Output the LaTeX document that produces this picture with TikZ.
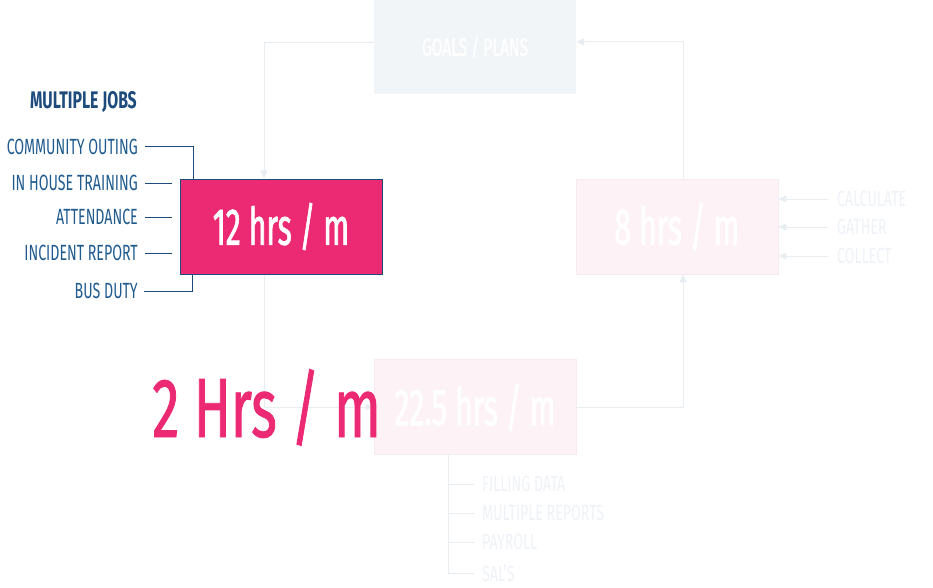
\documentclass[tikz,border=0pt]{standalone}
\usepackage{fontspec}
\usetikzlibrary{arrows.meta}
\newfontfamily\cond[FakeStretch=0.645]{Fira Sans}
\newfontfamily\condbox[FakeStretch=0.58,FakeBold=1.2]{Fira Sans}
\newfontfamily\condg[FakeStretch=0.62,FakeBold=0.6]{Fira Sans}
\newfontfamily\condbig[FakeStretch=0.65,FakeBold=1]{Fira Sans}
\newfontfamily\condb[FakeStretch=0.66]{Fira Sans Bold}
\definecolor{pinkC}{HTML}{EC2A73}
\definecolor{navyC}{HTML}{1D4C7C}
\definecolor{labC}{HTML}{1F5B8E}
\definecolor{lineF}{HTML}{E8EDF2}
\definecolor{goalF}{HTML}{F2F5F8}
\definecolor{pinkF}{HTML}{FDF2F6}
\definecolor{pinkB}{HTML}{F7EAF0}
\definecolor{textF}{HTML}{EEF2F6}
\tikzset{
  box/.style={minimum width=202pt, minimum height=95pt, inner sep=0pt, text=white, font=\condbox\fontsize{52}{52}\selectfont},
  conn/.style={draw=lineF, line width=1pt},
  arr/.style={-{Triangle[length=8pt,width=7pt]}},
  lab/.style={inner sep=0pt, text=labC, font=\cond\fontsize{22}{22}\selectfont},
  flab/.style={inner sep=0pt, text=textF, font=\cond\fontsize{22}{22}\selectfont},
  lline/.style={draw=navyC, line width=1pt}
}
\begin{document}
\begin{tikzpicture}[x=1pt,y=-1pt]
\useasboundingbox (0,0) rectangle (933,588);
% boxes
\node[box, fill=goalF, font=\condg\fontsize{25}{25}\selectfont] (goals) at (475,47) {GOALS / PLANS};
\node[box, fill=pinkC, draw=navyC, line width=1pt] (j12) at (281,226.5) {12 hrs / m};
\node[box, fill=pinkF, draw=pinkB, line width=0.8pt] (j8) at (677,226.5) {8 hrs / m};
\node[box, fill=pinkF, draw=pinkB, line width=0.8pt] (j22) at (475,407) {22.5 hrs / m};
% main connectors
\draw[conn, arr] ([yshift=4pt]goals.west) -| ([xshift=-17pt]j12.north);
\draw[conn, arr] ([xshift=6pt]j8.north) |- ([yshift=5pt]goals.east);
\draw[conn, arr] ([xshift=-17pt]j12.south) |- (j22.west);
\draw[conn, arr] (j22.east) -| ([xshift=6pt]j8.south);
% right labels
\node[flab, anchor=west] (calc) at (837,199) {CALCULATE};
\node[flab, anchor=west] (gath) at (837,227) {GATHER};
\node[flab, anchor=west] (coll) at (837,256) {COLLECT};
\foreach \n in {calc,gath,coll}
  \draw[conn, arr] ([xshift=-9pt]\n.west) -- (\n.west -| j8.east);
% left labels
\node[inner sep=0pt, anchor=east, text=navyC, font=\condb\fontsize{24}{24}\selectfont] (mj) at (137,102.5) {MULTIPLE JOBS};
\node[lab, anchor=east] (co) at (138,147) {COMMUNITY OUTING};
\node[lab, anchor=east] (iht) at (138,183) {IN HOUSE TRAINING};
\node[lab, anchor=east] (att) at (138,217) {ATTENDANCE};
\node[lab, anchor=east] (inc) at (138,253) {INCIDENT REPORT};
\node[lab, anchor=east] (bus) at (138,291) {BUS DUTY};
\draw[lline] ([xshift=7pt]co.east) -| ([xshift=-88pt]j12.north);
\draw[lline] ([xshift=6pt]bus.east) -| ([xshift=-89pt]j12.south);
\foreach \n in {iht,att,inc}
  \draw[lline] ([xshift=7pt]\n.east) -- ([xshift=-8pt]\n.east -| j12.west);
% bottom labels
\node[flab, anchor=west] (fd) at (482,484) {FILLING DATA};
\node[flab, anchor=west] (mr) at (482,513) {MULTIPLE REPORTS};
\node[flab, anchor=west] (pr) at (482,542) {PAYROLL};
\node[flab, anchor=west] (sa) at (482,573) {SAL’S};
\draw[conn] ([xshift=-27pt]j22.south) |- ([xshift=-8pt]sa.west);
\foreach \n in {fd,mr,pr}
  \draw[conn] ([xshift=-8pt]\n.west) -- ([xshift=-8pt]\n.west -| sa.west) -- +(-26pt,0);
% big text
\node[inner sep=0pt, anchor=base east, text=pinkC, font=\condbig\fontsize{84}{84}\selectfont] (big) at (381,437) {2 Hrs / m};
\end{tikzpicture}
\end{document}
